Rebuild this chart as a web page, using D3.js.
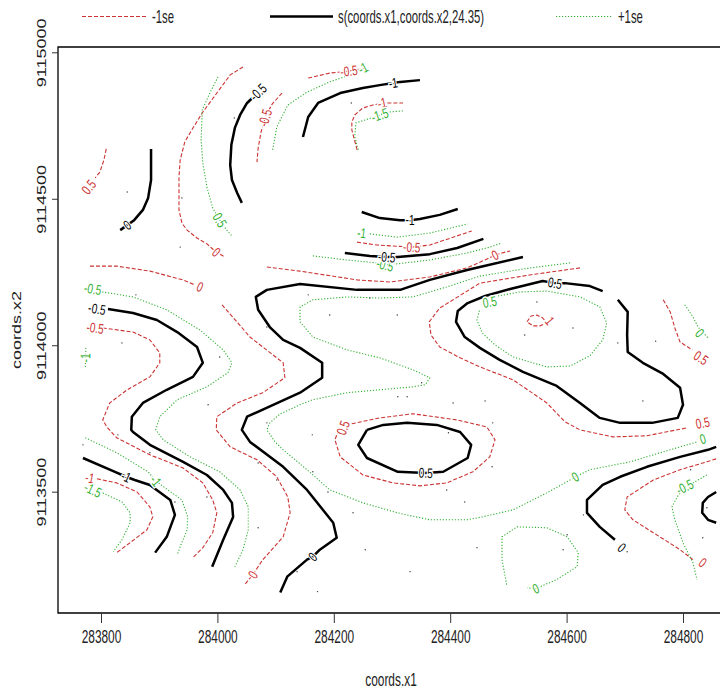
<!DOCTYPE html>
<html>
<head>
<meta charset="utf-8">
<script src="https://cdn.jsdelivr.net/npm/d3@7"></script>
<style>
  body { margin: 0; background: #fff; }
  svg { display: block; }
</style>
</head>
<body>
<div id="chart"></div>
<script>
// ticks
var xTicks = [283800, 284000, 284200, 284400, 284600, 284800];
var yTicks = [9113500, 9114000, 9114500, 9115000];
var legendLabels = ['-1se', 's(coords.x1,coords.x2,24.35)', '+1se'];

// fitted smooth contours (black)
var fitContours = [
  {level: '-1', labels: [[284302, 9114895]], points: [[284147, 9114711], [284156, 9114779], [284173, 9114827], [284211, 9114861], [284250, 9114878], [284279, 9114888], [284302, 9114895], [284314, 9114899], [284348, 9114905]]},
  {level: '-0.5', labels: [[284070, 9114864]], points: [[284060, 9114844], [284051, 9114827], [284039, 9114786], [284030, 9114742], [284024, 9114684], [284022, 9114615], [284025, 9114564], [284034, 9114520], [284042, 9114486]]},
  {level: '0', labels: [[283845, 9114410]], points: [[283886, 9114670], [283886, 9114564], [283881, 9114503], [283872, 9114462], [283857, 9114427], [283845, 9114410], [283833, 9114393]]},
  {level: '-1', labels: [[284331, 9114427]], points: [[284248, 9114455], [284279, 9114434], [284314, 9114427], [284331, 9114427], [284348, 9114431], [284382, 9114445], [284413, 9114465]]},
  {level: '-0.5', labels: [[284291, 9114301]], points: [[284219, 9114315], [284262, 9114305], [284291, 9114301], [284310, 9114301], [284365, 9114311], [284412, 9114332], [284457, 9114363]]},
  {level: '0', labels: [[284164, 9113278]], points: [[284525, 9114301], [284451, 9114267], [284429, 9114257], [284365, 9114223], [284314, 9114189], [284240, 9114189], [284142, 9114209], [284085, 9114189], [284066, 9114165], [284070, 9114121], [284090, 9114062], [284113, 9114018], [284142, 9113991], [284180, 9113940], [284180, 9113889], [284142, 9113838], [284051, 9113756], [284042, 9113711], [284056, 9113670], [284113, 9113585], [284154, 9113506], [284199, 9113394], [284205, 9113343], [284176, 9113302], [284164, 9113278], [284154, 9113268], [284120, 9113210], [284108, 9113156]]},
  {level: '0.5', labels: [[284580, 9114212]], points: [[284688, 9114155], [284705, 9114114], [284704, 9114035], [284705, 9113977], [284731, 9113940], [284766, 9113902], [284795, 9113855], [284800, 9113797], [284791, 9113752], [284747, 9113735], [284692, 9113735], [284657, 9113752], [284623, 9113803], [284583, 9113861], [284525, 9113909], [284485, 9113950], [284451, 9113991], [284425, 9114028], [284410, 9114080], [284413, 9114117], [284430, 9114144], [284460, 9114168], [284503, 9114192], [284559, 9114219], [284580, 9114212], [284597, 9114212], [284640, 9114202], [284662, 9114185]]},
  {level: '0.5', labels: [[284358, 9113564]], points: [[284257, 9113711], [284242, 9113660], [284257, 9113615], [284310, 9113568], [284358, 9113564], [284388, 9113568], [284430, 9113615], [284436, 9113660], [284417, 9113704], [284377, 9113728], [284326, 9113735], [284285, 9113728], [284257, 9113711]]},
  {level: '-0.5', labels: [[283793, 9114124]], points: [[283812, 9114124], [283855, 9114110], [283896, 9114086], [283931, 9114045], [283965, 9113994], [283975, 9113940], [283958, 9113892], [283913, 9113848], [283872, 9113803], [283853, 9113756], [283852, 9113711], [283855, 9113704], [283884, 9113660], [283941, 9113602], [283982, 9113557], [284010, 9113506], [284025, 9113462], [284027, 9113414], [284010, 9113336], [283991, 9113244]]},
  {level: '-1', labels: [[283843, 9113551]], points: [[283769, 9113615], [283824, 9113568], [283843, 9113551], [283858, 9113540], [283884, 9113523], [283919, 9113472], [283927, 9113421], [283913, 9113346], [283893, 9113292]]},
  {level: '0', labels: [[284695, 9113309]], points: [[284857, 9113653], [284843, 9113643], [284795, 9113619], [284738, 9113585], [284692, 9113551], [284662, 9113523], [284635, 9113472], [284635, 9113428], [284657, 9113380], [284683, 9113336]]},
  {level: '0', labels: [], points: [[284857, 9113499], [284843, 9113482], [284834, 9113462], [284833, 9113428], [284843, 9113404], [284857, 9113394]]}
];

// fit - 1 se (red dashed)
var lowContours = [
  {level: '0.5', labels: [[283779, 9114540]], points: [[283809, 9114670], [283805, 9114632], [283798, 9114591], [283790, 9114571]]},
  {level: '0', labels: [[283998, 9114318]], points: [[284044, 9114950], [284022, 9114923], [283975, 9114796], [283956, 9114735], [283944, 9114694], [283936, 9114632], [283934, 9114574], [283934, 9114462], [283939, 9114417], [283948, 9114393], [283965, 9114366], [283982, 9114346], [283998, 9114318], [284013, 9114301]]},
  {level: '-0.5', labels: [[284226, 9114936]], points: [[284156, 9114912], [284193, 9114929], [284226, 9114936], [284254, 9114946]]},
  {level: '-0.5', labels: [[284082, 9114776]], points: [[284111, 9114861], [284094, 9114823], [284083, 9114783], [284075, 9114728], [284070, 9114673], [284068, 9114625]]},
  {level: '-1', labels: [[284283, 9114827]], points: [[284240, 9114667], [284231, 9114735], [284231, 9114762], [284236, 9114786], [284250, 9114810], [284267, 9114820], [284283, 9114827], [284319, 9114827]]},
  {level: '-0.5', labels: [[284334, 9114335]], points: [[284240, 9114352], [284274, 9114342], [284334, 9114335], [284365, 9114342], [284437, 9114390]]},
  {level: '0', labels: [[283970, 9114199]], points: [[283781, 9114270], [283827, 9114270], [283884, 9114253], [283941, 9114223], [283961, 9114206]]},
  {level: '0', labels: [[284477, 9114308]], points: [[284085, 9114267], [284142, 9114253], [284240, 9114223], [284297, 9114216], [284365, 9114233], [284429, 9114264], [284463, 9114294], [284477, 9114308], [284489, 9114315], [284503, 9114322]]},
  {level: '-0.5', labels: [[283790, 9114059]], points: [[283803, 9114059], [283855, 9114045], [283884, 9114018], [283901, 9113974], [283901, 9113940], [283884, 9113892], [283845, 9113848], [283815, 9113803], [283803, 9113745], [283810, 9113721], [283827, 9113684], [283884, 9113626], [283941, 9113581], [283975, 9113530], [283992, 9113472], [283999, 9113428], [283992, 9113360], [283975, 9113309], [283958, 9113275]]},
  {level: '0', labels: [[284061, 9113217]], points: [[284008, 9114138], [284056, 9114028], [284113, 9113940], [284116, 9113889], [284078, 9113838], [284034, 9113803], [283999, 9113756], [283998, 9113711], [284022, 9113653], [284068, 9113609], [284102, 9113551], [284121, 9113482], [284125, 9113428], [284113, 9113346], [284078, 9113268], [284061, 9113217], [284047, 9113183]]},
  {level: '-1', labels: [[283781, 9113547]], points: [[283793, 9113544], [283827, 9113530], [283862, 9113499], [283884, 9113448], [283889, 9113414], [283879, 9113370], [283850, 9113326], [283827, 9113292]]},
  {level: '0.5', labels: [[284216, 9113718]], points: [[284231, 9113732], [284279, 9113752], [284336, 9113766], [284412, 9113745], [284463, 9113721], [284477, 9113677], [284468, 9113619], [284439, 9113568], [284394, 9113530], [284348, 9113520], [284302, 9113530], [284250, 9113557], [284211, 9113619], [284202, 9113677], [284207, 9113704]]},
  {level: '0.5', labels: [[284834, 9113735]], points: [[284623, 9114264], [284537, 9114240], [284451, 9114212], [284413, 9114165], [284382, 9114127], [284364, 9114080], [284367, 9114035], [284382, 9113994], [284417, 9113957], [284451, 9113926], [284508, 9113882], [284566, 9113803], [284597, 9113739], [284623, 9113711], [284680, 9113687], [284738, 9113691], [284807, 9113718]]},
  {level: '1', labels: [[284571, 9114083]], points: [[284532, 9114080], [284539, 9114100], [284549, 9114103], [284559, 9114093], [284566, 9114076], [284554, 9114066], [284542, 9114066], [284532, 9114080]]},
  {level: '0.5', labels: [[284831, 9113957]], points: [[284766, 9114155], [284778, 9114114], [284786, 9114059], [284795, 9114011], [284816, 9113984]]},
  {level: '0', labels: [[284834, 9113258]], points: [[284857, 9113612], [284841, 9113602], [284795, 9113575], [284749, 9113540], [284704, 9113482], [284700, 9113438], [284714, 9113404], [284749, 9113360], [284795, 9113302], [284817, 9113268]]}
];

// fit + 1 se (green dotted)
var highContours = [
  {level: '0.5', labels: [[284004, 9114427]], points: [[284001, 9114916], [283987, 9114861], [283974, 9114803], [283972, 9114701], [283975, 9114622], [283982, 9114540], [283992, 9114468], [284004, 9114427], [284016, 9114393], [284025, 9114373]]},
  {level: '-1', labels: [[284250, 9114946]], points: [[284095, 9114667], [284102, 9114745], [284121, 9114820], [284154, 9114864], [284193, 9114899], [284228, 9114923], [284250, 9114946]]},
  {level: '-1.5', labels: [[284279, 9114786]], points: [[284242, 9114667], [284236, 9114711], [284238, 9114759], [284254, 9114769], [284279, 9114786], [284293, 9114796], [284319, 9114800]]},
  {level: '-1', labels: [[284248, 9114383]], points: [[284262, 9114380], [284309, 9114369], [284365, 9114383], [284430, 9114414]]},
  {level: '-0.5', labels: [[284288, 9114274]], points: [[284164, 9114305], [284223, 9114291], [284274, 9114281], [284288, 9114274], [284305, 9114277], [284365, 9114291], [284429, 9114315], [284468, 9114335], [284489, 9114349]]},
  {level: '0', labels: [[284615, 9113551], [284834, 9113680]], points: [[284606, 9114281], [284537, 9114264], [284451, 9114236], [284394, 9114199], [284336, 9114165], [284279, 9114161], [284223, 9114165], [284164, 9114155], [284142, 9114131], [284142, 9114080], [284164, 9114028], [284223, 9113984], [284279, 9113957], [284336, 9113916], [284365, 9113889], [284357, 9113865], [284336, 9113858], [284279, 9113848], [284223, 9113838], [284164, 9113814], [284142, 9113797], [284108, 9113766], [284090, 9113735], [284085, 9113711], [284099, 9113670], [284113, 9113643], [284154, 9113575], [284193, 9113506], [284250, 9113462], [284309, 9113428], [284365, 9113404], [284429, 9113404], [284455, 9113414], [284508, 9113438], [284566, 9113496], [284606, 9113540], [284615, 9113551], [284640, 9113575], [284709, 9113602], [284766, 9113636], [284824, 9113670]]},
  {level: '0.5', labels: [[284468, 9114148]], points: [[284482, 9114168], [284520, 9114182], [284566, 9114185], [284623, 9114165], [284657, 9114131], [284669, 9114076], [284662, 9114018], [284640, 9113964], [284606, 9113929], [284566, 9113926], [284508, 9113960], [284477, 9114001], [284455, 9114042], [284446, 9114086], [284451, 9114124]]},
  {level: '0', labels: [[284829, 9114042]], points: [[284803, 9114138], [284817, 9114097], [284826, 9114062], [284843, 9114025]]},
  {level: '-0.5', labels: [[284803, 9113516]], points: [[284841, 9113557], [284817, 9113530], [284803, 9113516], [284790, 9113482], [284781, 9113448], [284786, 9113404], [284800, 9113326], [284817, 9113258], [284824, 9113200]]},
  {level: '0', labels: [[284547, 9113169]], points: [[284497, 9113183], [284489, 9113268], [284489, 9113346], [284515, 9113380], [284566, 9113377], [284601, 9113346], [284620, 9113292], [284618, 9113244], [284583, 9113200], [284563, 9113183], [284547, 9113169], [284532, 9113172]]},
  {level: '-0.5', labels: [[283786, 9114192]], points: [[283802, 9114182], [283855, 9114165], [283913, 9114121], [283970, 9114052], [284010, 9113984], [284025, 9113940], [284018, 9113906], [283982, 9113858], [283931, 9113814], [283901, 9113756], [283894, 9113711], [283907, 9113677], [283953, 9113619], [284004, 9113568], [284039, 9113506], [284053, 9113448], [284053, 9113370], [284044, 9113302], [284030, 9113244]]},
  {level: '-1', labels: [[283894, 9113537]], points: [[283773, 9113684], [283827, 9113633], [283881, 9113568], [283894, 9113537], [283910, 9113513], [283939, 9113472], [283949, 9113414], [283948, 9113370], [283936, 9113312], [283931, 9113285]]},
  {level: '-1.5', labels: [[283786, 9113506]], points: [[283803, 9113496], [283836, 9113465], [283850, 9113428], [283850, 9113394], [283836, 9113336], [283821, 9113295]]},
  {level: '-1', labels: [[283773, 9113957]], points: [[283774, 9113991], [283773, 9113923]]}
];

// observation locations
var dataPoints = [
  [283845, 9114523], [283939, 9114503], [284029, 9114776], [284230, 9114827], [283936, 9114335],
  [283860, 9114172], [283836, 9114008], [284004, 9113960], [284085, 9114062], [283984, 9113797],
  [284085, 9113735], [284156, 9114172], [284262, 9114161], [284193, 9114103], [284309, 9114103],
  [284351, 9113872], [284310, 9113824], [284326, 9113824], [284405, 9113803], [284434, 9114018],
  [284549, 9114148], [284611, 9114059], [284528, 9114035], [284688, 9114008], [284753, 9114014],
  [284731, 9113810], [284460, 9113810], [284473, 9113735], [283769, 9113660], [283829, 9113694],
  [283884, 9113633], [283982, 9113482], [283927, 9113465], [284070, 9113377], [284070, 9113598],
  [284102, 9113540], [284163, 9113694], [284164, 9113568], [284190, 9113499], [284233, 9113428],
  [284254, 9113302], [284331, 9113227], [284172, 9113159], [284137, 9113227], [284394, 9113506],
  [284425, 9113465], [284446, 9113309], [284397, 9113701], [284472, 9113585], [284594, 9113302],
  [284601, 9113353], [284629, 9113421], [284704, 9113295], [284813, 9113575], [284834, 9113343],
  [284841, 9113445]
];

var width = 720;
var height = 694;
var box = {left: 58, top: 47, right: 760, bottom: 613};
var fontFam = "'Liberation Sans', Arial, sans-serif";
var squish = 0.66;
var redCol = '#cc3333';
var greenCol = '#33b033';

var svg = d3
    .select('#chart')
    .append('svg')
    .attr('width', width)
    .attr('height', height)
    .style('background', 'white');

var x = d3.scaleLinear().domain([283800, 284800]).range([101, 683]);
var y = d3.scaleLinear().domain([9113500, 9115000]).range([491.7, 52.3]);

svg.append('clipPath')
    .attr('id', 'plotClip')
    .append('rect')
    .attr('x', box.left)
    .attr('y', box.top)
    .attr('width', box.right - box.left)
    .attr('height', box.bottom - box.top);

var plot = svg.append('g').attr('clip-path', 'url(#plotClip)');

var line = d3.line()
    .x(d => x(d[0]))
    .y(d => y(d[1]));

// angle of the polyline segment nearest to a label
function labelAngle(pts, lab) {
    var lx = x(lab[0]), ly = y(lab[1]);
    var best = Infinity, ang = 0;
    for (var i = 0; i < pts.length - 1; i++) {
        var ax = x(pts[i][0]), ay = y(pts[i][1]);
        var bx = x(pts[i + 1][0]), by = y(pts[i + 1][1]);
        var dx = bx - ax, dy = by - ay;
        var len2 = dx * dx + dy * dy || 1;
        var t = Math.max(0, Math.min(1, ((lx - ax) * dx + (ly - ay) * dy) / len2));
        var px = ax + t * dx - lx, py = ay + t * dy - ly;
        var dist = px * px + py * py;
        if (dist < best) {
            best = dist;
            ang = Math.atan2(dy, dx) * 180 / Math.PI;
        }
    }
    if (ang > 90) ang -= 180;
    if (ang < -90) ang += 180;
    return ang;
}

function drawSet(contours, cls, color, widthPx, dash) {
    var g = plot.append('g').attr('class', cls);
    g.selectAll('path')
        .data(contours)
        .enter()
        .append('path')
        .attr('d', d => line(d.points))
        .attr('fill', 'none')
        .attr('stroke', color)
        .attr('stroke-width', widthPx)
        .attr('stroke-dasharray', dash)
        .attr('stroke-linejoin', 'round');
    return g;
}

function drawLabels(contours, color) {
    var labs = [];
    contours.forEach(c => {
        c.labels.forEach(l => labs.push({text: c.level, pos: l, ang: labelAngle(c.points, l)}));
    });
    plot.append('g')
        .selectAll('text')
        .data(labs)
        .enter()
        .append('text')
        .attr('transform', d => `translate(${x(d.pos[0])},${y(d.pos[1])}) rotate(${d.ang}) scale(${squish + 0.06},1)`)
        .attr('text-anchor', 'middle')
        .attr('dy', '0.35em')
        .attr('font-family', fontFam)
        .attr('font-size', 14)
        .attr('fill', color)
        .attr('stroke', 'white')
        .attr('stroke-width', 3)
        .attr('paint-order', 'stroke')
        .text(d => d.text);
}

drawSet(lowContours, 'low', redCol, 1.1, '4,2');
drawSet(highContours, 'high', greenCol, 1.1, '1.2,1.8');
drawSet(fitContours, 'fit', '#000', 2.5, null);

plot.append('g')
    .selectAll('circle')
    .data(dataPoints)
    .enter()
    .append('circle')
    .attr('cx', d => x(d[0]))
    .attr('cy', d => y(d[1]))
    .attr('r', 0.7)
    .attr('fill', '#333');

drawLabels(lowContours, redCol);
drawLabels(highContours, greenCol);
drawLabels(fitContours, '#000');

// box
svg.append('path')
    .attr('d', `M${box.right},${box.top}H${box.left}V${box.bottom}H${box.right}`)
    .attr('fill', 'none')
    .attr('stroke', '#000')
    .attr('stroke-width', 1.3);

// axes
var xAxis = svg.append('g')
    .attr('transform', `translate(0,${box.bottom})`)
    .call(d3.axisBottom(x).tickValues(xTicks).tickSize(10).tickFormat(d3.format('d')));
xAxis.select('.domain').remove();
xAxis.selectAll('line').attr('stroke', '#333');
xAxis.selectAll('text')
    .attr('y', null)
    .attr('dy', null)
    .attr('transform', `translate(0,30) scale(${squish},1)`)
    .attr('font-family', fontFam)
    .attr('font-size', 18)
    .attr('fill', '#222');

var yAxis = svg.append('g')
    .attr('transform', `translate(${box.left},0)`)
    .call(d3.axisLeft(y).tickValues(yTicks).tickSize(6).tickFormat(d3.format('d')));
yAxis.select('.domain').remove();
yAxis.selectAll('line').attr('stroke', '#333');
yAxis.selectAll('text')
    .attr('x', null)
    .attr('dy', null)
    .attr('text-anchor', 'middle')
    .attr('transform', `translate(-12,0) scale(${squish},1) rotate(-90)`)
    .attr('font-family', fontFam)
    .attr('font-size', 18)
    .attr('fill', '#222');

svg.append('text')
    .attr('transform', `translate(391,686) scale(${squish},1)`)
    .attr('text-anchor', 'middle')
    .attr('font-family', fontFam)
    .attr('font-size', 18)
    .attr('fill', '#222')
    .text('coords.x1');

svg.append('text')
    .attr('transform', `translate(21,330) scale(${squish},1) rotate(-90)`)
    .attr('text-anchor', 'middle')
    .attr('font-family', fontFam)
    .attr('font-size', 18)
    .attr('fill', '#222')
    .text('coords.x2');

// legend
var legendItems = [
    {label: legendLabels[0], color: redCol, w: 1.1, dash: '4,2', x0: 82, x1: 147},
    {label: legendLabels[1], color: '#000', w: 2.5, dash: null, x0: 270, x1: 333},
    {label: legendLabels[2], color: greenCol, w: 1.1, dash: '1.2,1.8', x0: 556, x1: 613}
];
var legend = svg.append('g').attr('class', 'legend');
legendItems.forEach(d => {
    legend.append('line')
        .attr('x1', d.x0).attr('x2', d.x1)
        .attr('y1', 16.5).attr('y2', 16.5)
        .attr('stroke', d.color)
        .attr('stroke-width', d.w)
        .attr('stroke-dasharray', d.dash);
    legend.append('text')
        .attr('transform', `translate(${d.x1 + 5},23) scale(${squish - 0.03},1)`)
        .attr('font-family', fontFam)
        .attr('font-size', 18)
        .attr('fill', '#222')
        .text(d.label);
});
</script>
</body>
</html>
